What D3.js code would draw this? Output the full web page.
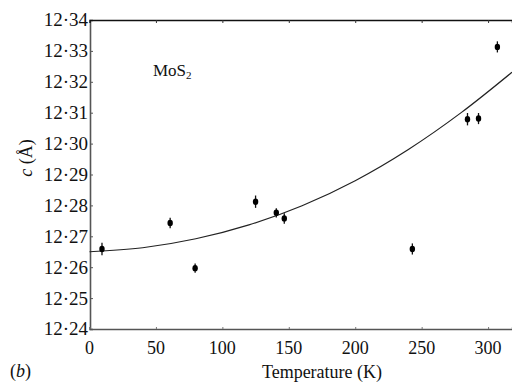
<!DOCTYPE html>
<html>
<head>
  <meta charset="utf-8">
  <title>MoS2 lattice parameter c vs temperature</title>
  <style>
    body { margin: 0; background: #fff; }
    text { font-family: "Liberation Serif", "DejaVu Serif", serif; fill: #111; }
  </style>
</head>
<body>
  <div id="chart"></div>

  <script src="https://d3js.org/d3.v7.min.js"></script>
  <script>
    // measured points (T in K, c in Angstrom) with error bars
    const temps = [9.4, 60.7, 79.5, 125, 140.6, 146.6, 243, 284.5, 292.8, 307];
    const cValues = [12.2659, 12.2743, 12.2597, 12.2812, 12.2776, 12.2758, 12.2659, 12.3079, 12.3081, 12.3313];
    const cErrors = [0.0020, 0.0017, 0.0015, 0.0020, 0.0015, 0.0017, 0.0018, 0.0020, 0.0018, 0.0018];

    // fitted curve
    const fitT = [0, 40, 80, 120, 160, 200, 240, 280, 318];
    const fitC = [12.2650, 12.2663, 12.2692, 12.2737, 12.2799, 12.2880, 12.2981, 12.3101, 12.3231];

    const xTicks = [0, 50, 100, 150, 200, 250, 300];
    const yTicks = [12.24, 12.25, 12.26, 12.27, 12.28, 12.29, 12.30, 12.31, 12.32, 12.33, 12.34];

    const width = 512, height = 382;
    const m = { left: 90, right: 512, top: 20, bottom: 329 };

    const svg = d3.select('#chart')
      .append('svg')
      .attr('width', width)
      .attr('height', height);

    const x = d3.scaleLinear().domain([0, 318]).range([m.left - 0.5, m.right]);
    const y = d3.scaleLinear().domain([12.24, 12.34]).range([m.bottom, m.top]);

    const fmt = d => d3.format('.2f')(d).replace('.', '\u00b7');

    // axes
    svg.append('g')
      .attr('transform', `translate(${m.left},0)`)
      .call(d3.axisRight(y).tickValues(yTicks).tickSize(3).tickFormat(''))
      .call(g => g.select('.domain').attr('stroke', '#555').attr('stroke-width', 1.6))
      .call(g => g.selectAll('.tick line').attr('stroke', '#555'));

    svg.append('g')
      .attr('transform', `translate(0,${m.bottom})`)
      .call(d3.axisTop(x).tickValues(xTicks).tickSize(2).tickFormat(''))
      .call(g => g.select('.domain').attr('stroke', '#555').attr('stroke-width', 1.3))
      .call(g => g.selectAll('.tick line').attr('stroke', '#777'));

    svg.append('g')
      .attr('transform', `translate(0,${m.top})`)
      .call(d3.axisBottom(x).tickValues([50, 100, 150, 200, 250, 300]).tickSize(3).tickFormat(''))
      .call(g => g.select('.domain').attr('stroke', '#111').attr('stroke-width', 1.4))
      .call(g => g.selectAll('.tick line').attr('stroke', '#333'));

    // tick labels
    svg.append('g')
      .attr('text-anchor', 'end')
      .selectAll('text')
      .data(yTicks)
      .join('text')
      .attr('x', m.left - 2)
      .attr('y', d => y(d))
      .attr('dy', '0.34em')
      .attr('font-size', 19)
      .text(fmt);

    svg.append('g')
      .attr('text-anchor', 'middle')
      .selectAll('text')
      .data(xTicks)
      .join('text')
      .attr('x', d => x(d))
      .attr('y', 354)
      .attr('font-size', 18)
      .text(d => d);

    // axis titles
    svg.append('text')
      .attr('x', 322)
      .attr('y', 378)
      .attr('text-anchor', 'middle')
      .attr('font-size', 18)
      .text('Temperature (K)');

    svg.append('text')
      .attr('transform', 'translate(32,158) rotate(-90)')
      .attr('text-anchor', 'middle')
      .attr('font-size', 18)
      .call(t => t.append('tspan').attr('font-style', 'italic').text('c'))
      .call(t => t.append('tspan').text(' (\u00c5)'));

    svg.append('text')
      .attr('x', 10)
      .attr('y', 377)
      .attr('font-size', 18)
      .call(t => t.append('tspan').text('('))
      .call(t => t.append('tspan').attr('font-style', 'italic').text('b'))
      .call(t => t.append('tspan').text(')'));

    svg.append('text')
      .attr('x', 153)
      .attr('y', 76)
      .attr('font-size', 17)
      .call(t => t.append('tspan').text('MoS'))
      .call(t => t.append('tspan').attr('font-size', 11).attr('dy', 3).text('2'));

    // fitted curve
    const line = d3.line()
      .x(d => x(d[0]))
      .y(d => y(d[1]))
      .curve(d3.curveMonotoneX);

    svg.append('path')
      .datum(fitT.map((t, i) => [t, fitC[i]]))
      .attr('fill', 'none')
      .attr('stroke', '#222')
      .attr('stroke-width', 1.2)
      .attr('d', line);

    // points with error bars
    const pts = temps.map((t, i) => ({ t, c: cValues[i], e: cErrors[i] }));

    svg.append('g')
      .selectAll('line')
      .data(pts)
      .join('line')
      .attr('x1', d => x(d.t))
      .attr('x2', d => x(d.t))
      .attr('y1', d => y(d.c + d.e))
      .attr('y2', d => y(d.c - d.e))
      .attr('stroke', '#111')
      .attr('stroke-width', 1.3);

    svg.append('g')
      .selectAll('ellipse')
      .data(pts)
      .join('ellipse')
      .attr('cx', d => x(d.t))
      .attr('cy', d => y(d.c))
      .attr('rx', 2.7)
      .attr('ry', 3.2)
      .attr('fill', '#000');
  </script>
</body>
</html>
